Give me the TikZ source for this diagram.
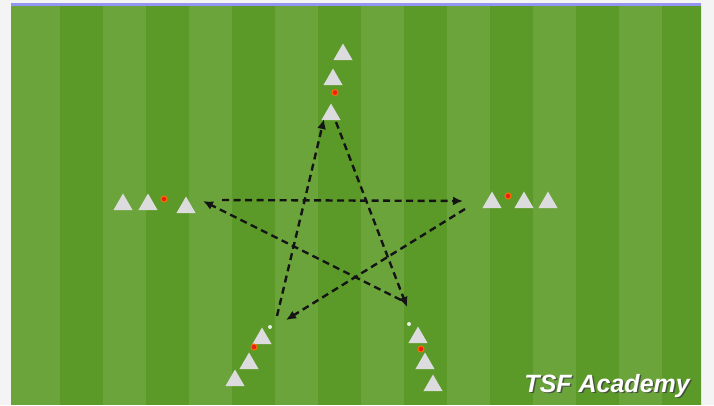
\documentclass[tikz,border=0pt]{standalone}
\usepackage{fontspec}
\usepackage{xcolor}
\usepackage{tikz}
\usetikzlibrary{arrows.meta,positioning,shapes.geometric}
\newfontfamily\logofont{Liberation Sans}
\definecolor{pagegray}{HTML}{F4F4F4}
\definecolor{turflight}{HTML}{6CA43C}
\definecolor{turfdark}{HTML}{5B9A28}
\definecolor{topblue}{HTML}{9494F2}
\definecolor{conegray}{HTML}{DCDCDE}
\definecolor{dotred}{HTML}{E8201A}
\tikzset{
  cone/.style={regular polygon, regular polygon sides=3, minimum size=22pt,
    inner sep=0pt, fill=conegray, draw=none},
  ballmark/.style={circle, fill=dotred, draw=orange!85!red, line width=1pt,
    inner sep=0pt, minimum size=6pt},
  spotmark/.style={circle, fill=white, fill opacity=0.85, inner sep=0pt, minimum size=4pt},
  passarrow/.style={-{Latex[length=10pt,width=9pt]}, line width=2.4pt, draw=black!92,
    dash pattern=on 7pt off 4.5pt},
  logotext/.style={font=\logofont\bfseries\itshape\fontsize{25}{30}\selectfont,
    inner sep=0pt, anchor=base east}
}

\begin{document}
\begin{tikzpicture}[x=1pt,y=-1pt]
        \useasboundingbox (0,0) rectangle (714,405);
        \fill[pagegray] (0,0) rectangle (714,405);
        % pitch with stripes
        \begin{scope}
            \clip (11,6) rectangle (701,405);
            \fill[turflight] (11,6) rectangle (701,405);
            \foreach \k in {0,...,7}
                \fill[turfdark] ({59.5+86*\k},6) rectangle ++(43,399);
        \end{scope}
        \fill[topblue] (11,2.5) rectangle (701,6);

        % cones
        \foreach \x/\y [count=\n] in {343/54.5, 333/79.5, 331/114.5,
                                      123/204.5, 148/204.5, 186/207.5,
                                      492/202.5, 524/202.5, 548/202.5,
                                      262/338.5, 249/363.5, 235/380.5,
                                      418/337.5, 425/363.5, 433/385.5}
            \node[cone] (cone\n) at (\x,\y) {};

        % players
        \node[ballmark] (ballT) at (335,92.5) {};
        \node[ballmark] (ballL) at (164,199) {};
        \node[ballmark] (ballR) at (508,196) {};
        \node[ballmark] (ballBL) at (254,347) {};
        \node[ballmark] (ballBR) at (421,349) {};
        \node[spotmark] (spotBL) at (270,327) {};
        \node[spotmark] (spotBR) at (409,324) {};

        % star points
        \coordinate (leftin) at (203,201);
        \coordinate (leftout) at (222,200);
        \coordinate (rightin) at (463,201);
        \coordinate (rightout) at (465,209);
        \coordinate (blin) at (286,320);
        \coordinate (blout) at (277,316);
        \coordinate (topin) at (324,119);
        \coordinate (topout) at (336,122);
        \coordinate (brin) at (407,307);
        \coordinate (brout) at (401,300);

        \draw[passarrow] (leftout) -- (rightin);
        \draw[passarrow] (rightout) -- (blin);
        \draw[passarrow] (blout) -- (topin);
        \draw[passarrow] (topout) -- (brin);
        \draw[passarrow] (brout) -- (leftin);

        % logo
        \node[logotext, text=black!75, opacity=0.8] (logoshadow) at (691.5,393.5) {TSF Academy};
        \node[logotext, text=white] (logo) at (690,392) {TSF Academy};
    \end{tikzpicture}
\end{document}
